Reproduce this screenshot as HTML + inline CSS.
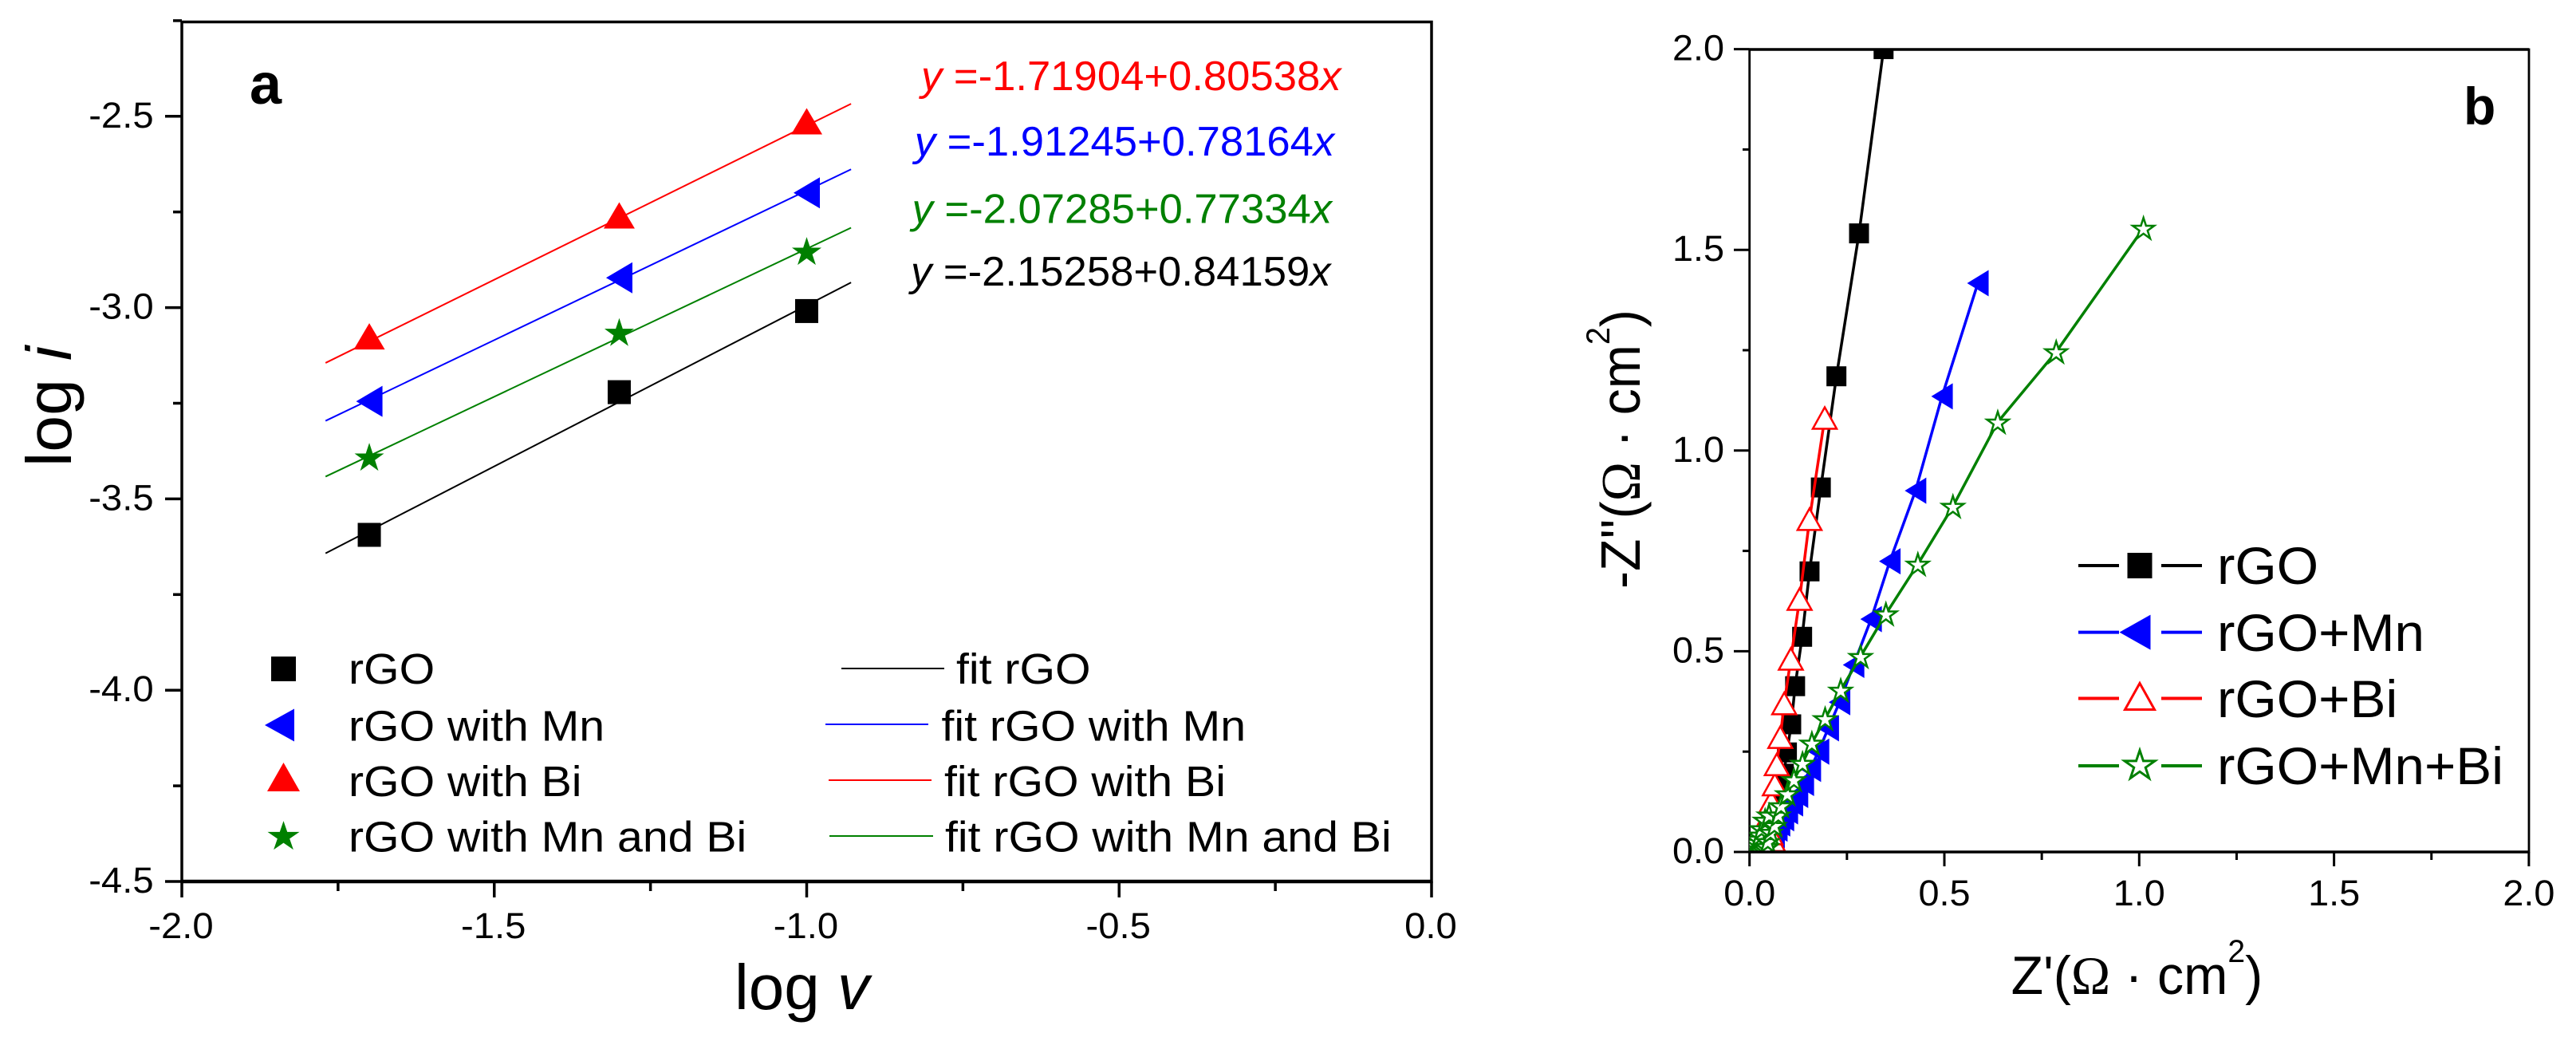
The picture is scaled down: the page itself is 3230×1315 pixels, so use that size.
<!DOCTYPE html>
<html lang="en">
<head>
<meta charset="utf-8">
<title>Log i vs log v fits and Nyquist plot</title>
<style>
html,body{margin:0;padding:0;background:#fff;}
svg{display:block;}
text{font-family:"Liberation Sans",Arial,sans-serif;fill:#000;}
.omega{font-family:"Liberation Serif",serif;}
</style>
</head>
<body>
<svg id="figure" xmlns="http://www.w3.org/2000/svg" width="3230" height="1315" viewBox="0 0 3230 1315">
  <rect x="0" y="0" width="3230" height="1315" fill="#fff"/>
  <defs>
    <clipPath id="clip-b"><rect x="2193.7" y="62" width="977.3" height="1006"/></clipPath>
  </defs>

  <g id="panel-a">
    <text transform="translate(313 130)" font-size="72" font-weight="bold">a</text>
    <text transform="translate(89 585) rotate(-90) scale(1.03 1)" font-size="80">log <tspan font-style="italic">i</tspan></text>
    <text transform="translate(921 1265)" font-size="80">log <tspan font-style="italic">v</tspan></text>

    <text transform="translate(1155 113) scale(1.012 1)" font-size="52" style="fill:#f00"><tspan font-style="italic" style="fill:#f00">y</tspan> =-1.71904+0.80538<tspan font-style="italic" style="fill:#f00">x</tspan></text>
    <text transform="translate(1146.7 195) scale(1.012 1)" font-size="52" style="fill:#00f"><tspan font-style="italic" style="fill:#00f">y</tspan> =-1.91245+0.78164<tspan font-style="italic" style="fill:#00f">x</tspan></text>
    <text transform="translate(1143.5 279.5) scale(1.012 1)" font-size="52" style="fill:#008000"><tspan font-style="italic" style="fill:#008000">y</tspan> =-2.07285+0.77334<tspan font-style="italic" style="fill:#008000">x</tspan></text>
    <text transform="translate(1142 358) scale(1.012 1)" font-size="52"><tspan font-style="italic">y</tspan> =-2.15258+0.84159<tspan font-style="italic">x</tspan></text>

    <g>
      <text transform="translate(437 857) scale(1.06 1)" font-size="54">rGO</text>
      <text transform="translate(437 928.6) scale(1.06 1)" font-size="54">rGO with Mn</text>
      <text transform="translate(437 998) scale(1.06 1)" font-size="54">rGO with Bi</text>
      <text transform="translate(437 1067.5) scale(1.06 1)" font-size="54">rGO with Mn and Bi</text>
      <line x1="1055" y1="838" x2="1184" y2="838" stroke="#000" stroke-width="2"/>
      <line x1="1035" y1="908" x2="1164" y2="908" stroke="#00f" stroke-width="2"/>
      <line x1="1039" y1="978" x2="1168" y2="978" stroke="#f00" stroke-width="2"/>
      <line x1="1040" y1="1048" x2="1170" y2="1048" stroke="#008000" stroke-width="2"/>
      <text transform="translate(1199 857) scale(1.06 1)" font-size="54">fit rGO</text>
      <text transform="translate(1180.5 928.6) scale(1.06 1)" font-size="54">fit rGO with Mn</text>
      <text transform="translate(1184 998) scale(1.06 1)" font-size="54">fit rGO with Bi</text>
      <text transform="translate(1185 1067.5) scale(1.06 1)" font-size="54">fit rGO with Mn and Bi</text>
    </g>
  </g>

  <g id="panel-b">
    <text transform="translate(3089 156)" font-size="66" font-weight="bold">b</text>
    <text transform="translate(2056 738) rotate(-90) scale(.945 1)" font-size="70">-Z''(<tspan class="omega">Ω</tspan> · cm<tspan font-size="42" dy="-38">2</tspan><tspan dy="38">)</tspan></text>
    <text transform="translate(2521.6 1246) scale(.975 1)" font-size="68">Z'(<tspan class="omega">Ω</tspan> · cm<tspan font-size="40" dy="-40">2</tspan><tspan dy="40">)</tspan></text>

    <g>
      <line x1="2606" y1="709" x2="2657" y2="709" stroke="#000" stroke-width="4"/>
      <line x1="2710" y1="709" x2="2761" y2="709" stroke="#000" stroke-width="4"/>
      <line x1="2606" y1="792.6" x2="2657" y2="792.6" stroke="#00f" stroke-width="4"/>
      <line x1="2710" y1="792.6" x2="2761" y2="792.6" stroke="#00f" stroke-width="4"/>
      <line x1="2606" y1="875.5" x2="2657" y2="875.5" stroke="#f00" stroke-width="4"/>
      <line x1="2710" y1="875.5" x2="2761" y2="875.5" stroke="#f00" stroke-width="4"/>
      <line x1="2606" y1="960" x2="2657" y2="960" stroke="#008000" stroke-width="4"/>
      <line x1="2710" y1="960" x2="2761" y2="960" stroke="#008000" stroke-width="4"/>
      <text transform="translate(2780 732) scale(1.02 1)" font-size="66">rGO</text>
      <text transform="translate(2780 816) scale(1.02 1)" font-size="66">rGO+Mn</text>
      <text transform="translate(2780 899) scale(1.02 1)" font-size="66">rGO+Bi</text>
      <text transform="translate(2780 983) scale(1.02 1)" font-size="66">rGO+Mn+Bi</text>
    </g>
  </g>
</svg>

<script>
// ---------- Panel a data ----------
const scanRateLogV = [-1.7, -1.3, -1.0];
const logI_rGO = [-3.594, -3.221, -3.009];
const logI_rGO_Mn = [-3.245, -2.922, -2.70];
const logI_rGO_Bi = [-3.075, -2.759, -2.513];
const logI_rGO_MnBi = [-3.39, -3.064, -2.852];
const fitIntercepts = [-2.15258, -1.91245, -1.71904, -2.07285];
const fitSlopes = [0.84159, 0.78164, 0.80538, 0.77334];
const fitRange = [-1.77, -0.929];
const aYMajorTicks = [-2.5, -3.0, -3.5, -4.0, -4.5];
const aYMinorTicks = [-2.25, -2.75, -3.25, -3.75, -4.25];
const aXMajorTicks = [-2.0, -1.5, -1.0, -0.5, 0.0];
const aXMinorTicks = [-1.75, -1.25, -0.75, -0.25];

// ---------- Panel b data ----------
const zRe_rGO = [.056,.058,.06,.064,.068,.074,.081,.088,.096,.107,.117,.135,.154,.183,.223,.281,.344];
const zIm_rGO = [.003,.012,.03,.05,.076,.109,.149,.195,.248,.318,.413,.536,.699,.908,1.185,1.541,2.0];
const zRe_Mn = [.052,.054,.057,.063,.070,.077,.087,.097,.110,.123,.138,.156,.177,.202,.231,.267,.312,.36,.426,.494,.586];
const zIm_Mn = [.006,.015,.029,.042,.058,.071,.084,.101,.121,.142,.172,.207,.250,.308,.373,.466,.58,.724,.90,1.135,1.417];
const zRe_Bi = [.073,.071,.0675,.06,.054,.05,.052,.056,.065,.07,.079,.089,.106,.1285,.154,.193];
const zIm_Bi = [.003,.008,.016,.029,.046,.07,.095,.125,.168,.218,.286,.37,.481,.63,.829,1.081];
const zRe_MnBi = [.001,.003,.005,.008,.01,.012,.015,.018,.022,.026,.031,.04,.05,.03,.035,.04,.044,.047,.054,.064,.074,.081,.097,.114,.136,.160,.194,.234,.285,.35,.432,.522,.637,.787,1.011];
const zIm_MnBi = [.001,.002,.004,.006,.009,.012,.018,.024,.032,.042,.058,.079,.092,.003,.006,.009,.0135,.026,.049,.066,.092,.115,.145,.18,.221,.271,.332,.403,.487,.593,.717,.861,1.071,1.246,1.554];
const bMajorTicks = [0.0, 0.5, 1.0, 1.5, 2.0];
const bMinorTicks = [0.25, 0.75, 1.25, 1.75];

// ---------- Axis functions ----------
const aX = v => 228 + (v + 2) * 783.5;
const aY = v => 1105 - (v + 4.5) * 479.6;
const bX = v => 2193.7 + v * 488.6;
const bY = v => 1068 - v * 503.2;

const NS = 'http://www.w3.org/2000/svg';
function make(tag, attrs, parent) {
  const el = document.createElementNS(NS, tag);
  for (const k in attrs) el.setAttribute(k, attrs[k]);
  parent.appendChild(el);
  return el;
}
function markerEl(shape, cx, cy, w, h, fill, stroke, sw, parent) {
  if (shape === 'square') {
    return make('rect', {x: cx - w / 2, y: cy - h / 2, width: w, height: h, fill: fill}, parent);
  }
  let pts = [];
  if (shape === 'up') {
    pts = [[cx, cy - h / 2], [cx + w / 2, cy + h / 2], [cx - w / 2, cy + h / 2]];
  } else if (shape === 'left') {
    pts = [[cx - w / 2, cy], [cx + w / 2, cy - h / 2], [cx + w / 2, cy + h / 2]];
  } else {
    const R = w / 1.902, r = R * 0.382, c = cy + 0.0955 * R;
    const sy = h / (1.809 * R);
    for (let i = 0; i < 10; i++) {
      const a = -Math.PI / 2 + i * Math.PI / 5, q = i % 2 ? r : R;
      pts.push([cx + q * Math.cos(a), cy + (c - cy) + q * Math.sin(a) * sy]);
    }
  }
  return make('polygon', {
    points: pts.map(p => p[0].toFixed(2) + ',' + p[1].toFixed(2)).join(' '),
    fill: fill, stroke: stroke || 'none', 'stroke-width': sw || 0, 'stroke-linejoin': 'miter'
  }, parent);
}

const panelA = document.getElementById('panel-a');
const panelB = document.getElementById('panel-b');

// ---------- Panel a frame ----------
const frameA = make('rect', {x: 228, y: 27.5, width: 1567, height: 1077.5, fill: 'none', stroke: '#000', 'stroke-width': 3.5}, panelA);


const bottomA = make('line', {x1: 228, x2: 1795, y1: 1105, y2: 1105, stroke: '#000', 'stroke-width': 4.5}, panelA);



aYMajorTicks.forEach(v => {
  const t = make('line', {x1: 207, x2: 228, y1: aY(v), y2: aY(v), stroke: '#000', 'stroke-width': 3.5}, panelA);
  
  
  const l = make('text', {transform: 'translate(192.6 ' + (aY(v) + 14) + ') scale(1.05 1)', 'text-anchor': 'end', 'font-size': 45}, panelA);
  l.textContent = v.toFixed(1);
  
  
});
aYMinorTicks.forEach(v => {
  const t = make('line', {x1: 217, x2: 228, y1: aY(v), y2: aY(v), stroke: '#000', 'stroke-width': 3.5}, panelA);
  
  
});
aXMajorTicks.forEach(v => {
  const t = make('line', {x1: aX(v), x2: aX(v), y1: 1105, y2: 1125, stroke: '#000', 'stroke-width': 3.5}, panelA);
  
  
  const l = make('text', {transform: 'translate(' + (aX(v) - 1) + ' 1176) scale(1.05 1)', 'text-anchor': 'middle', 'font-size': 45}, panelA);
  l.textContent = v.toFixed(1);
  
  
});
aXMinorTicks.forEach(v => {
  const t = make('line', {x1: aX(v), x2: aX(v), y1: 1105, y2: 1117, stroke: '#000', 'stroke-width': 3.5}, panelA);
  
  
});

// ---------- Panel a fits ----------
const fitColors = ['#000', '#00f', '#f00', '#008000'];
fitIntercepts.forEach((b0, i) => {
  const ln = make('line', {
    x1: aX(fitRange[0]), y1: aY(b0 + fitSlopes[i] * fitRange[0]),
    x2: aX(fitRange[1]), y2: aY(b0 + fitSlopes[i] * fitRange[1]),
    stroke: fitColors[i], 'stroke-width': 2
  }, panelA);
  
  
});

// ---------- Panel a points ----------
scanRateLogV.forEach((v, i) => {
  const m1 = markerEl('square', aX(v), aY(logI_rGO[i]), 29, 30, '#000', null, 0, panelA);
  
  
  const m2 = markerEl('left', aX(v), aY(logI_rGO_Mn[i]), 33, 39, '#00f', null, 0, panelA);
  
  
  const m3 = markerEl('up', aX(v), aY(logI_rGO_Bi[i]), 39, 33, '#f00', null, 0, panelA);
  
  
  const m4 = markerEl('star', aX(v), aY(logI_rGO_MnBi[i]), 37, 35, '#008000', null, 0, panelA);
  
  
});

// ---------- Panel a legend keys ----------
const keyA1 = markerEl('square', 355.5, 838.5, 31, 31, '#000', null, 0, panelA);


const keyA2 = markerEl('left', 350.5, 909, 37, 41, '#00f', null, 0, panelA);


const keyA3 = markerEl('up', 355.5, 974, 41, 36, '#f00', null, 0, panelA);


const keyA4 = markerEl('star', 355.5, 1047, 40, 36, '#008000', null, 0, panelA);



// ---------- Panel b frame ----------
const frameB = make('rect', {x: 2193.7, y: 62, width: 977.3, height: 1006, fill: 'none', stroke: '#000', 'stroke-width': 2.8}, panelB);



bMajorTicks.forEach(v => {
  const t = make('line', {x1: 2174, x2: 2193.7, y1: bY(v), y2: bY(v), stroke: '#000', 'stroke-width': 3}, panelB);
  
  
  const l = make('text', {transform: 'translate(2162 ' + (bY(v) + 14) + ') scale(1.04 1)', 'text-anchor': 'end', 'font-size': 45}, panelB);
  l.textContent = v.toFixed(1);
  
  
  const t2 = make('line', {x1: bX(v), x2: bX(v), y1: 1068, y2: 1086, stroke: '#000', 'stroke-width': 3}, panelB);
  
  
  const l2 = make('text', {transform: 'translate(' + bX(v) + ' 1135) scale(1.04 1)', 'text-anchor': 'middle', 'font-size': 45}, panelB);
  l2.textContent = v.toFixed(1);
  
  
});
bMinorTicks.forEach(v => {
  const t = make('line', {x1: 2185, x2: 2193.7, y1: bY(v), y2: bY(v), stroke: '#000', 'stroke-width': 3}, panelB);
  
  
  const t2 = make('line', {x1: bX(v), x2: bX(v), y1: 1068, y2: 1078, stroke: '#000', 'stroke-width': 3}, panelB);
  
  
});

// ---------- Panel b series ----------
const plotB = make('g', {'clip-path': 'url(#clip-b)'}, panelB);



function seriesPoints(re, im) {
  return re.map((v, i) => bX(v).toFixed(2) + ',' + bY(im[i]).toFixed(2)).join(' ');
}

const lineRgo = make('polyline', {points: seriesPoints(zRe_rGO, zIm_rGO), fill: 'none', stroke: '#000', 'stroke-width': 3.5}, plotB);


zRe_rGO.forEach((v, i) => {
  const m = markerEl('square', bX(v), bY(zIm_rGO[i]), 25, 25, '#000', null, 0, plotB);
  
  
});

const lineMn = make('polyline', {points: seriesPoints(zRe_Mn, zIm_Mn), fill: 'none', stroke: '#00f', 'stroke-width': 3.5}, plotB);


zRe_Mn.forEach((v, i) => {
  const m = markerEl('left', bX(v), bY(zIm_Mn[i]), 27, 33, '#00f', null, 0, plotB);
  
  
});

const lineBi = make('polyline', {points: seriesPoints(zRe_Bi, zIm_Bi), fill: 'none', stroke: '#f00', 'stroke-width': 3.5}, plotB);


zRe_Bi.forEach((v, i) => {
  const m = markerEl('up', bX(v), bY(zIm_Bi[i]), 30, 27, '#fff', '#f00', 2.5, plotB);
  
  
});

const lineMnBi = make('polyline', {points: seriesPoints(zRe_MnBi, zIm_MnBi), fill: 'none', stroke: '#008000', 'stroke-width': 3.5}, plotB);


zRe_MnBi.forEach((v, i) => {
  const m = markerEl('star', bX(v), bY(zIm_MnBi[i]), 27, 26, '#fff', '#008000', 2.5, plotB);
  
  
});

const topB = make('line', {x1: 2193.7, x2: 3171, y1: 62, y2: 62, stroke: '#000', 'stroke-width': 3.6}, panelB);


const bottomB = make('line', {x1: 2193.7, x2: 3171, y1: 1068, y2: 1068, stroke: '#000', 'stroke-width': 3.6}, panelB);



// ---------- Panel b legend keys ----------
const keyB1 = markerEl('square', 2683, 709, 31, 32, '#000', null, 0, panelB);


const keyB2 = markerEl('left', 2677, 792.6, 39, 44, '#00f', null, 0, panelB);


const keyB3 = markerEl('up', 2683, 873, 37, 33, '#fff', '#f00', 3, panelB);


const keyB4 = markerEl('star', 2683, 958, 38, 35, '#fff', '#008000', 3, panelB);


</script>
</body>
</html>
